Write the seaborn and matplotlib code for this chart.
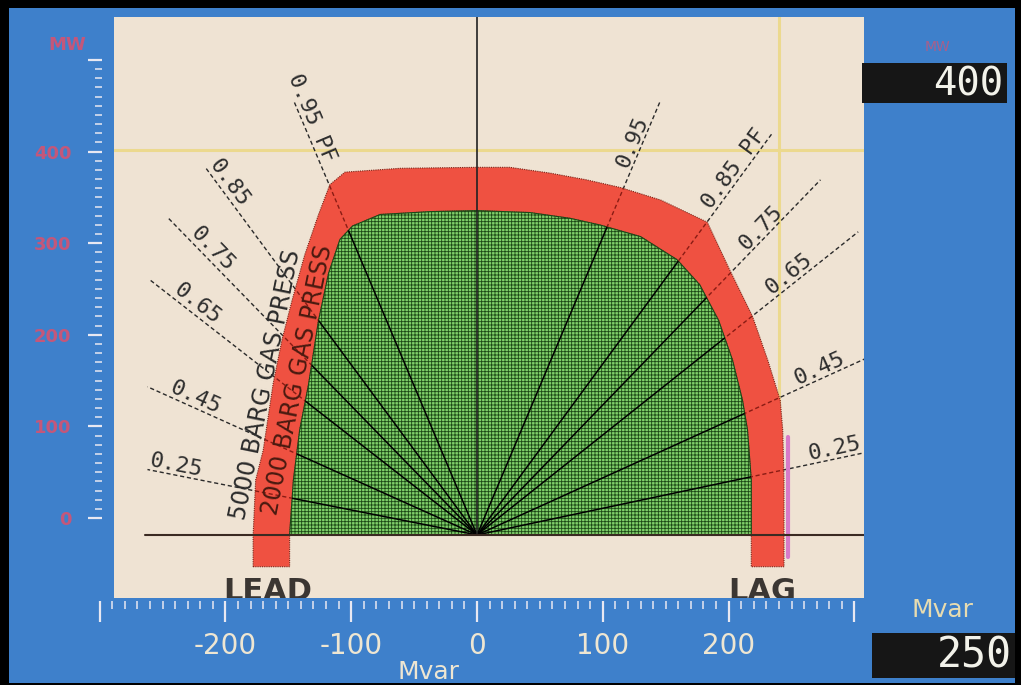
import numpy as np
import pandas as pd
import matplotlib
matplotlib.use("Agg")
import matplotlib.pyplot as plt
import matplotlib.ticker as mtick
from matplotlib.patches import Polygon, Rectangle
import seaborn as sns

# ---- data (Mvar, MW) ----
# outer edge of the red band (5000 barg gas pressure limit)
outer_mvar = [-178, -178, -176, -170, -162, -155, -147, -137, -126, -117, -105, -61, 0,
              26, 58, 87, 114, 146, 183, 201, 219, 231, 241, 243, 244, 244, 244]
outer_mw = [-33, 0, 57, 88, 158, 203, 244, 291, 333, 364, 377, 381, 382,
            382, 376, 369, 361, 348, 325, 275, 227, 182, 140, 109, 57, 0, -33]
# inner edge (2000 barg gas pressure limit, green area)
inner_mvar = [-149, -149, -146, -141, -134, -126, -118, -109, -99, -77, -37, 0,
              42, 74, 98, 130, 159, 177, 192, 203, 211, 215, 218, 218, 218]
inner_mw = [-33, 0, 57, 109, 156, 223, 272, 307, 321, 333, 336, 337,
            335, 329, 322, 310, 286, 260, 223, 182, 140, 109, 57, 0, -33]

pf_lead_labels = ["0.95 PF", "0.85", "0.75", "0.65", "0.45", "0.25"]
pf_lead_end_mvar = [-146, -216, -246, -260, -262, -262]
pf_lead_end_mw = [452, 382, 330, 265, 154, 68]
pf_lag_labels = ["0.95", "0.85 PF", "0.75", "0.65", "0.45", "0.25"]
pf_lag_end_mvar = [146, 235, 273, 303, 310, 310]
pf_lag_end_mw = [452, 418, 369, 315, 184, 86]

press_labels = ["5000 BARG GAS PRESS", "2000 BARG GAS PRESS"]
mvar_ticks = [-300, -200, -100, 0, 100, 200, 300]
mw_ticks = [0, 100, 200, 300, 400, 500]
cursor_mvar, cursor_mw = 240, 400
readout_mw, readout_mvar = "400", "250"
pink_mvar, pink_mw = 247, [102, -23]

# ---- layout ----
W, H = 1021, 685
XL, YL = (-288.6, 307.6), (-65.5, 538.2)
lead_label_at = [1.05, 1.0, 0.94, 0.94, 0.94, 1.0]
lag_label_at = [0.95, 0.99, 0.9, 0.89, 0.95, 0.99]
press_xy = [(-168, 156), (-143, 161)]

BLUE = "#3e80cb"
BEIGE = "#efe3d3"
RED = "#ef5141"
GREEN = "#7fcf69"
TICK = "#e8e8f2"
PALE = "#eee6d2"
FAINT_RED = "#c4577a"


def px(x0, y0, x1, y1):
    return [x0 / W, 1 - y1 / H, (x1 - x0) / W, (y1 - y0) / H]


sns.set_style("white")
plt.rcParams["font.family"] = ["DejaVu Sans"]
plt.rcParams["hatch.linewidth"] = 0.6

fig = plt.figure(figsize=(W / 100, H / 100), dpi=100, facecolor=BLUE)

ax = fig.add_axes(px(114, 17, 864, 598))
ax.set_facecolor(BEIGE)
ax.set_xlim(*XL)
ax.set_ylim(*YL)
ax.set_xticks([])
ax.set_yticks([])
for s in ax.spines.values():
    s.set_visible(False)

# power factor rays, dashed
ends_q = pf_lead_end_mvar + pf_lag_end_mvar
ends_p = pf_lead_end_mw + pf_lag_end_mw
df_rays = pd.DataFrame({
    "mvar": [v for q in ends_q for v in (0, q)],
    "mw": [v for p in ends_p for v in (0, p)],
    "ray": [i for i in range(len(ends_q)) for _ in (0, 1)],
})
sns.lineplot(data=df_rays, x="mvar", y="mw", units="ray", estimator=None, sort=False,
             color="#2a2a2a", lw=1.0, linestyle=(0, (3, 2)), ax=ax, zorder=2)
ax.set_xlabel("")
ax.set_ylabel("")

# cursor cross
ax.axhline(cursor_mw, color="#ecd98e", lw=2.2, zorder=1.5)
ax.plot([cursor_mvar, cursor_mvar], [0, YL[1]], color="#ecd98e", lw=2.2, zorder=1.5)

# red band and green area
band = Polygon(np.column_stack([outer_mvar + inner_mvar[::-1], outer_mw + inner_mw[::-1]]),
               closed=True, fc=RED, ec="#7a2418", lw=0.8, ls=(0, (1, 1)), zorder=3)
ax.add_patch(band)
green = Polygon(np.column_stack([inner_mvar[1:-1], inner_mw[1:-1]]), closed=True,
                fc=GREEN, ec="#1c4716", lw=0.8, hatch="+++++", zorder=3)
ax.add_patch(green)

for q, p in zip(ends_q, ends_p):
    ln, = ax.plot([0, q], [0, p], color="#8a1c14", lw=1.0, ls=(0, (3, 2)), zorder=4)
    ln.set_clip_path(band)
    ln, = ax.plot([0, q], [0, p], color="black", lw=1.1, zorder=4)
    ln.set_clip_path(green)

ax.plot([pink_mvar, pink_mvar], pink_mw, color="#d77ac8", lw=3, zorder=2.5)

# axes lines
ax.plot([0, 0], [0, YL[1]], color="#222222", lw=1.2, zorder=5)
ax.plot([-264, XL[1]], [0, 0], color="#3a2a22", lw=1.5, zorder=5)

# PF labels along the rays
fig.canvas.draw()
o = ax.transData.transform((0, 0))
for labels, qs, ps, fr, side in [(pf_lead_labels, pf_lead_end_mvar, pf_lead_end_mw, lead_label_at, "lead"),
                                 (pf_lag_labels, pf_lag_end_mvar, pf_lag_end_mw, lag_label_at, "lag")]:
    for lab, q, p, f in zip(labels, qs, ps, fr):
        e = ax.transData.transform((q, p))
        ang = np.degrees(np.arctan2(e[1] - o[1], e[0] - o[0]))
        if side == "lead":
            rot, ha = ang - 180, "left"
        else:
            rot, ha = ang, "right"
        ax.text(q * f, p * f, lab, rotation=rot, rotation_mode="anchor", ha=ha, va="bottom",
                fontsize=16, family="DejaVu Sans Mono", color="#2e2e2e", zorder=6)

for lab, (q, p), col in zip(press_labels, press_xy, ["#2b2b2b", "#4a1a10"]):
    ax.text(q, p, lab, rotation=78.5, rotation_mode="anchor", ha="center", va="center",
            fontsize=17, color=col, zorder=6)

ax.text(-166, -67.5, "LEAD", ha="center", va="baseline", fontsize=22, fontweight="bold",
        color="#3b3632", clip_on=True, zorder=6)
ax.text(227, -67.5, "LAG", ha="center", va="baseline", fontsize=22, fontweight="bold",
        color="#3b3632", clip_on=True, zorder=6)

# bottom Mvar ruler
axr = fig.add_axes(px(99.6, 600, 854.4, 601))
axr.set_xlim(mvar_ticks[0], mvar_ticks[-1])
axr.patch.set_alpha(0)
axr.set_yticks([])
for s in axr.spines.values():
    s.set_visible(False)
axr.set_xticks(mvar_ticks)
axr.xaxis.set_minor_locator(mtick.MultipleLocator(10))
axr.xaxis.set_major_formatter(mtick.FuncFormatter(lambda v, _: "" if abs(v) > 250 else f"{v:.0f}"))
axr.tick_params(axis="x", which="major", bottom=True, direction="out", length=15, width=1.6,
                color=TICK, labelsize=20, labelcolor=PALE, pad=7)
axr.tick_params(axis="x", which="minor", bottom=True, direction="out", length=6, width=1.1, color=TICK)

# left MW ruler
axl = fig.add_axes(px(102, 60, 103, 518))
axl.set_ylim(mw_ticks[0], mw_ticks[-1])
axl.patch.set_alpha(0)
axl.set_xticks([])
for s in axl.spines.values():
    s.set_visible(False)
axl.set_yticks(mw_ticks)
axl.yaxis.set_minor_locator(mtick.MultipleLocator(10))
axl.yaxis.set_major_formatter(mtick.FuncFormatter(lambda v, _: "" if v > 450 else f"{v:.0f}"))
axl.tick_params(axis="y", which="major", left=True, direction="out", length=10, width=1.6,
                color=TICK, labelsize=13, labelcolor=FAINT_RED, pad=12)
axl.tick_params(axis="y", which="minor", left=True, direction="out", length=5, width=1.1, color=TICK)
plt.setp(axl.get_yticklabels(), fontweight="bold")

# figure texts and readouts
fig.text(67 / W, 1 - 45 / H, "MW", ha="center", va="center", fontsize=13, fontweight="bold", color=FAINT_RED)
fig.text(937 / W, 1 - 47 / H, "MW", ha="center", va="center", fontsize=10, color=FAINT_RED, alpha=0.8)
fig.text(428 / W, 1 - 672 / H, "Mvar", ha="center", va="center", fontsize=18, color=PALE)
fig.text(942 / W, 1 - 610 / H, "Mvar", ha="center", va="center", fontsize=18, color="#e8dcb0")

fig.add_artist(Rectangle(px(862, 63, 1007, 103)[:2], *px(862, 63, 1007, 103)[2:],
                         transform=fig.transFigure, fc="#161616", ec="none"))
fig.text(1003 / W, 1 - 84 / H, readout_mw, ha="right", va="center", fontsize=28,
         family="DejaVu Sans Mono", color="#f2f2ea")
fig.add_artist(Rectangle(px(872, 633, 1015, 678)[:2], *px(872, 633, 1015, 678)[2:],
                         transform=fig.transFigure, fc="#161616", ec="none"))
fig.text(1012 / W, 1 - 656 / H, readout_mvar, ha="right", va="center", fontsize=30,
         family="DejaVu Sans Mono", color="#f2f2ea")

# black photo frame
for r in [px(0, 0, 9, H), px(0, 0, W, 8), px(1015, 0, W, H), px(0, 683, W, H)]:
    fig.add_artist(Rectangle(r[:2], *r[2:], transform=fig.transFigure, fc="black", ec="none"))

fig.savefig("out.png", dpi=100, facecolor=BLUE)
